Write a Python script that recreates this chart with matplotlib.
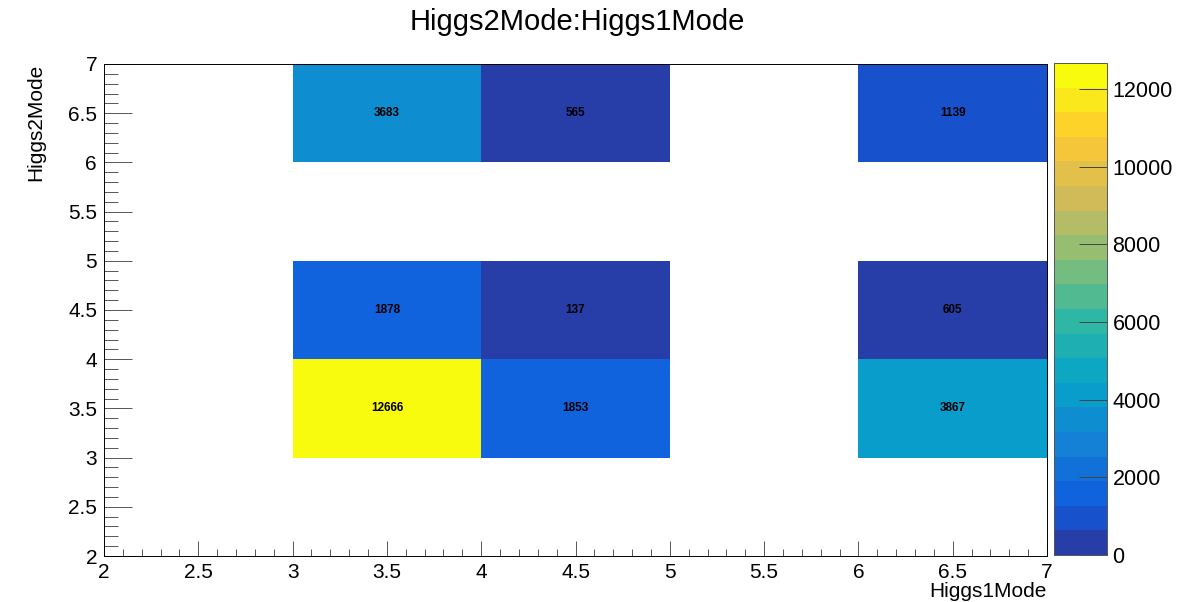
import matplotlib
matplotlib.use("Agg")
import matplotlib.pyplot as plt
import numpy as np
from matplotlib.colors import ListedColormap, BoundaryNorm, LinearSegmentedColormap
from matplotlib.ticker import MultipleLocator

plt.rcParams['font.family'] = ['Liberation Sans', 'DejaVu Sans']

# bin edges and filled bin contents (Higgs1Mode, Higgs2Mode, entries)
x_edges = [2, 3, 4, 5, 6, 7]
y_edges = [2, 3, 4, 5, 6, 7]
bin_x = [3.5, 4.5, 6.5, 3.5, 4.5, 6.5, 3.5, 4.5, 6.5]
bin_y = [6.5, 6.5, 6.5, 4.5, 4.5, 4.5, 3.5, 3.5, 3.5]
counts = [3683, 565, 1139, 1878, 137, 605, 12666, 1853, 3867]
cbar_ticks = [0, 2000, 4000, 6000, 8000, 10000, 12000]

# kBird palette stops
stops = [0.0, 0.125, 0.25, 0.375, 0.5, 0.625, 0.75, 0.875, 1.0]
red = [0.2082, 0.0592, 0.0780, 0.0232, 0.1802, 0.5301, 0.8186, 0.9956, 0.9764]
green = [0.1664, 0.3599, 0.5041, 0.6419, 0.7178, 0.7492, 0.7328, 0.7862, 0.9832]
blue = [0.5293, 0.8684, 0.8385, 0.7914, 0.6425, 0.4662, 0.3499, 0.1968, 0.0539]
bird = LinearSegmentedColormap.from_list(
    "bird", list(zip(stops, zip(red, green, blue))), N=255)

ncont = 20
zmax = max(counts)
cmap = ListedColormap([bird((i + 0.99) / ncont) for i in range(ncont)])
levels = np.linspace(0, zmax, ncont + 1)
norm = BoundaryNorm(levels, ncont, clip=True)

# fill the 2D histogram
grid = np.zeros((len(y_edges) - 1, len(x_edges) - 1))
for xv, yv, c in zip(bin_x, bin_y, counts):
    i = np.searchsorted(x_edges, xv) - 1
    j = np.searchsorted(y_edges, yv) - 1
    grid[j, i] = c
grid = np.ma.masked_equal(grid, 0)

fig = plt.figure(figsize=(11.78, 6.02), dpi=100)
ax = fig.add_axes([0.0883, 0.0764, 0.8005, 0.8173])
cax = fig.add_axes([0.8947, 0.0781, 0.045, 0.8173])

ax.pcolormesh(x_edges, y_edges, grid, cmap=cmap, norm=norm)
for xv, yv, c in zip(bin_x, bin_y, counts):
    ax.text(xv, yv, str(c), ha='center', va='center', fontsize=8.5,
            fontweight='bold', color='black')

ax.set_xlim(2, 7)
ax.set_ylim(2, 7)
ax.xaxis.set_major_locator(MultipleLocator(0.5))
ax.xaxis.set_minor_locator(MultipleLocator(0.1))
ax.yaxis.set_major_locator(MultipleLocator(0.5))
ax.yaxis.set_minor_locator(MultipleLocator(0.1))
ax.xaxis.set_major_formatter(plt.FuncFormatter(lambda v, p: f"{v:g}"))
ax.yaxis.set_major_formatter(plt.FuncFormatter(lambda v, p: f"{v:g}"))
ax.tick_params(axis='x', which='major', direction='in', length=10.6, width=0.7,
               color='#555555', labelsize=15, pad=5)
ax.tick_params(axis='x', which='minor', direction='in', length=5.3, width=0.7,
               color='#555555')
ax.tick_params(axis='y', which='major', direction='in', length=20, width=0.7,
               color='#555555', labelsize=15, pad=5)
ax.tick_params(axis='y', which='minor', direction='in', length=10, width=0.7,
               color='#555555')
for s in ax.spines.values():
    s.set_linewidth(0.7)

cb = fig.colorbar(plt.cm.ScalarMappable(norm=norm, cmap=cmap), cax=cax,
                  ticks=cbar_ticks)
cb.outline.set_linewidth(0.7)
cb.outline.set_edgecolor('#555555')
cax.minorticks_off()
cax.tick_params(direction='in', length=20, width=0.7, color='#444444',
                labelsize=15.5, pad=4)
cax.set_ylim(0, zmax)

fig.text(0.49, 0.963, "Higgs2Mode:Higgs1Mode", ha='center', va='center',
         fontsize=21)
fig.text(0.8888, 0.018, "Higgs1Mode", ha='right', va='center', fontsize=15)
fig.text(0.03, 0.8937, "Higgs2Mode", ha='center', va='top', rotation=90,
         fontsize=15)

fig.savefig("out.png", dpi=100)
